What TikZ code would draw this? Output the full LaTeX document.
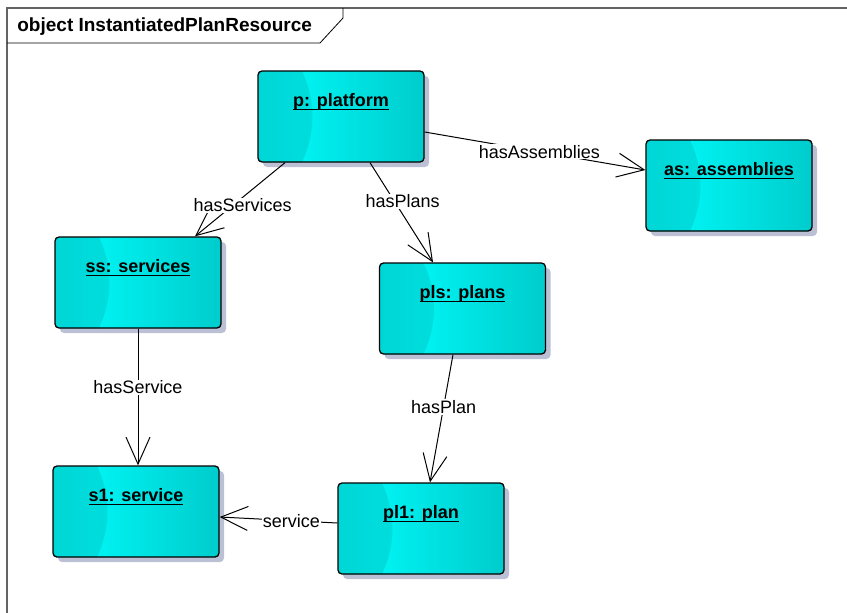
\documentclass[tikz,border=0pt]{standalone}
\usepackage{fontspec}
\setmainfont{Liberation Sans}
\usetikzlibrary{arrows.meta,shadows,calc}

\definecolor{cyleft}{RGB}{0,214,214}
\definecolor{cyleftb}{RGB}{0,236,236}
\definecolor{cybright}{RGB}{0,255,255}
\definecolor{cyright}{RGB}{0,204,204}
\definecolor{shadowblue}{RGB}{188,192,212}
\definecolor{framegray}{RGB}{100,100,100}

\newcommand\objname[1]{\setbox0\hbox{#1}\rlap{\rule[-3.6pt]{\wd0}{1.4pt}}\box0}

\tikzset{every picture/.style={line width=0.75pt}}

\begin{document}
\begin{tikzpicture}[x=1pt,y=1pt,yscale=-1,xscale=1,
    objbox/.style={draw=black, line width=1.3pt, rounded corners=4pt,
      minimum width=166pt, minimum height=91pt, inner xsep=0pt, inner ysep=0pt,
      text height=35.5pt, text depth=55.5pt, font=\fontsize{18}{21}\selectfont\bfseries,
      left color=cybright, right color=cyright,
      drop shadow={shadow xshift=5pt, shadow yshift=-5pt, fill=shadowblue, opacity=1},
      path picture={\shade[left color=cyleft, right color=cyleftb, sharp corners]
        (path picture bounding box.north west) -- ++(44,0)
        .. controls +(14,-30) and +(14,30) .. ++(0,-91)
        -- (path picture bounding box.south west) -- cycle;}},
    link/.style={draw=black, line width=1pt, -{Straight Barb[length=27pt,width=24pt,line width=1pt]}},
    linklabel/.style={fill=white, inner sep=1pt, font=\fontsize{18}{21}\selectfont}]
    \useasboundingbox (0,0) rectangle (847,613);

    %Shape: Frame
    \draw [color=framegray, line width=1.6pt] (847,8) -- (7,8) -- (7,613) ;
    %Shape: Title tab
    \draw [line width=0.8pt] (7,43) -- (320,43) -- (343,18) -- (343,8) ;
    % Text Node
    \node [anchor=west, inner sep=0pt, font=\fontsize{19}{22}\selectfont\bfseries] (title) at (17,27) {object InstantiatedPlanResource};

    %Shape: Objects
    \node [objbox] (p) at (341,116.5) {\objname{p: platform}};
    \node [objbox] (as) at (729,185.5) {\objname{as: assemblies}};
    \node [objbox] (ss) at (138,282.5) {\objname{ss: services}};
    \node [objbox] (pls) at (462.5,308.5) {\objname{pls: plans}};
    \node [objbox] (pl1) at (421,528.5) {\objname{pl1: plan}};
    \node [objbox] (s1) at (136,511.5) {\objname{s1: service}};

    %Straight Lines
    \draw [link] ($(p.east)+(0,15.5)$) -- node [linklabel, pos=0.52] (lasm) {hasAssemblies} ($(as.west)+(0,-15.5)$) ;
    \draw [link] ($(p.south)+(-56,0)$) -- node [linklabel, pos=0.47, yshift=-8pt] (lsvs) {hasServices} ($(ss.north)+(57,0)$) ;
    \draw [link] ($(p.south)+(29,0)$) -- node [linklabel, pos=0.39, xshift=8pt] (lpls) {hasPlans} ($(pls.north)+(-29.5,0)$) ;
    \draw [link] (ss.south) -- node [linklabel, pos=0.43] (lsv) {hasService} (ss.south |- s1.north) ;
    \draw [link] ($(pls.south)+(-9.5,0)$) -- node [linklabel, pos=0.41] (lpl) {hasPlan} ($(pl1.north)+(9,0)$) ;
    \draw [link] ($(pl1.west)+(0,-5.5)$) -- node [linklabel, pos=0.39] (lsrv) {service} ($(s1.east)+(0,5.5)$) ;

\end{tikzpicture}
\end{document}
